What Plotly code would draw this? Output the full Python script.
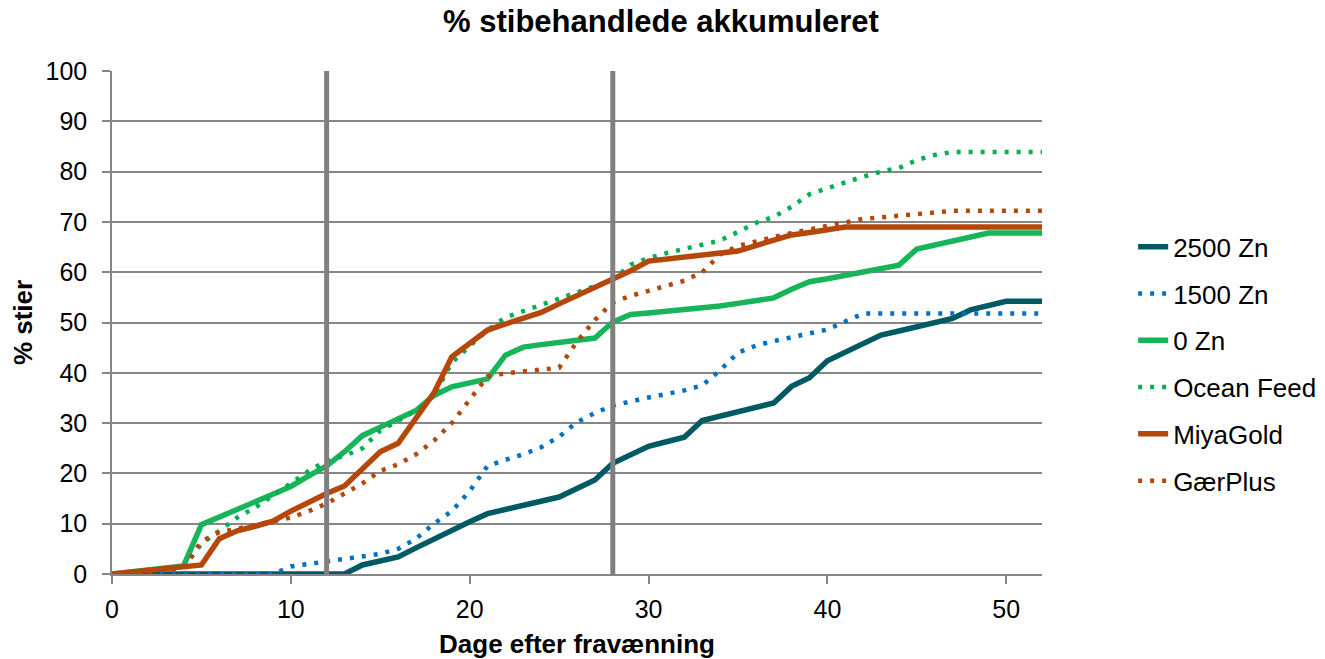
import plotly.graph_objects as go

days = list(range(0, 53))

zn2500 = [0]*14 + [1.8, 2.6, 3.4, 5.2, 7.0, 8.7, 10.4, 12.0, 12.8, 13.6, 14.5, 15.3, 17.0, 18.7,
              22.0, 23.7, 25.4, 26.3, 27.2, 30.5, 31.4, 32.3, 33.2, 34.0, 37.3, 39.0, 42.4, 44.1,
              45.8, 47.5, 48.3, 49.2, 50.0, 50.8, 52.5, 53.3, 54.2, 54.2, 54.2]

zn1500 = [0]*10 + [1.5, 2.0, 2.5, 3.0, 3.5, 4.0, 5.0, 7.0, 10.0, 12.5, 16.5, 21.5, 22.7, 23.8,
              25.2, 27.3, 30.2, 32.0, 33.5, 34.4, 35.1, 35.8, 36.5, 37.5, 40.5, 44.0, 45.4,
              46.3, 47.0, 47.8, 48.6, 50.2, 51.8, 51.8, 51.8, 51.8, 51.8, 51.8, 51.8, 51.8,
              51.8, 51.8, 51.8]

zn0 = [0, 0.4, 0.8, 1.2, 1.6, 9.8, 11.3, 12.8, 14.3, 15.8, 17.4, 19.5, 21.5, 24.3, 27.5, 29.2,
       30.8, 32.5, 35.5, 37.2, 38.0, 38.8, 43.5, 45.1, 45.6, 46.1, 46.5, 46.9, 50.1, 51.6, 51.9,
       52.2, 52.6, 52.9, 53.3, 53.8, 54.3, 54.9, 56.6, 58.1, 58.7, 59.4, 60.0, 60.7, 61.4, 64.6,
       65.4, 66.2, 67.0, 67.8, 67.8, 67.8, 67.8]

ocean = [0, 0.3, 0.6, 0.9, 1.2, 6.0, 8.5, 11.2, 13.2, 15.5, 18.0, 20.5, 22.5, 23.5, 25.0, 28.5,
         30.5, 32.5, 35.5, 42.0, 45.3, 48.5, 51.0, 52.3, 53.5, 54.8, 56.0, 57.2, 58.5, 61.5, 62.8,
         63.8, 64.7, 65.5, 66.3, 68.0, 69.8, 71.0, 73.0, 75.5, 76.7, 77.8, 79.0, 80.0, 80.7, 82.3,
         83.3, 83.9, 83.9, 83.9, 83.9, 83.9, 83.9]

miya = [0, 0.4, 0.8, 1.2, 1.5, 1.8, 7.0, 8.6, 9.5, 10.5, 12.5, 14.3, 16.0, 17.5, 21.0, 24.3,
        26.0, 31.0, 36.0, 43.2, 45.8, 48.5, 49.7, 50.8, 52.0, 53.7, 55.3, 57.0, 58.5, 60.3, 62.2,
        62.6, 63.0, 63.4, 63.8, 64.2, 65.3, 66.4, 67.4, 67.9, 68.5, 69.0, 69.0, 69.0, 69.0, 69.0,
        69.0, 69.0, 69.0, 69.0, 69.0, 69.0, 69.0]

gaer = [0, 0.3, 0.6, 0.9, 1.2, 6.5, 8.3, 9.0, 9.8, 10.5, 11.2, 12.5, 14.0, 16.0, 18.0, 20.5,
        21.8, 23.8, 26.5, 30.0, 34.6, 39.3, 39.9, 40.3, 40.6, 41.0, 46.2, 50.5, 54.0, 55.3, 56.3,
        57.3, 58.3, 60.0, 63.5, 65.2, 66.2, 67.0, 67.8, 68.5, 69.2, 69.8, 70.6, 70.9, 71.2, 71.5,
        71.8, 72.2, 72.2, 72.2, 72.2, 72.2, 72.2]

series_names = ["2500 Zn", "1500 Zn", "0 Zn", "Ocean Feed", "MiyaGold", "GærPlus"]
series_values = [zn2500, zn1500, zn0, ocean, miya, gaer]
series_colors = ["#005A64", "#0070C0", "#17B45A", "#00B050", "#B5470B", "#B5470B"]
series_dash = ["solid", "4px,8px", "solid", "4px,8px", "solid", "4px,8px"]
series_width = [5.5, 4.5, 5.5, 4.5, 5.5, 4.5]

x_ticks = [0, 10, 20, 30, 40, 50]
y_ticks = list(range(0, 101, 10))
marker_days = [12, 28]

FONT = "Arial, Liberation Sans, sans-serif"
W, H = 1325, 659

fig = go.Figure()
for i, (name, vals) in enumerate(zip(series_names, series_values)):
    fig.add_trace(go.Scatter(
        x=days, y=vals, mode="lines", name=name,
        legendgroup=f"g{i}",
        line=dict(color=series_colors[i], width=series_width[i], dash=series_dash[i]),
    ))

for d in marker_days:
    fig.add_shape(type="line", xref="x", yref="paper", x0=d, x1=d, y0=0, y1=1,
                  line=dict(color="#808080", width=5), layer="above")

fig.update_layout(
    width=W, height=H,
    margin=dict(l=112, r=283, t=71, b=85, autoexpand=False),
    paper_bgcolor="white", plot_bgcolor="white",
    font=dict(family=FONT, size=25, color="black"),
    title=dict(text="<b>% stibehandlede akkumuleret</b>", x=661/W, xanchor="center",
               xref="container", y=1 - 21/H, yanchor="middle",
               font=dict(size=31, family=FONT, color="black")),
    legend=dict(x=1.098, xanchor="left", y=0.418, yanchor="middle",
                font=dict(size=26, family=FONT), tracegroupgap=10,
                bgcolor="rgba(0,0,0,0)"),
    showlegend=True,
)
fig.update_xaxes(range=[0, 52], tickvals=x_ticks,
                 showgrid=False, zeroline=False, automargin=False,
                 showline=True, linecolor="#868686", linewidth=1.5,
                 ticks="outside", ticklen=8, tickcolor="#868686", tickwidth=1.5,
                 ticklabelstandoff=4,
                 tickfont=dict(size=25, family=FONT, color="black"),
                 title=dict(text="<b>Dage efter fravænning</b>", standoff=14,
                            font=dict(size=26, family=FONT, color="black")))
fig.update_yaxes(range=[0, 100], tickvals=y_ticks,
                 showgrid=True, gridcolor="#868686", gridwidth=1.5, zeroline=False,
                 automargin=False,
                 showline=True, linecolor="#868686", linewidth=1.5,
                 ticks="outside", ticklen=8, tickcolor="#868686", tickwidth=1.5,
                 ticklabelstandoff=10,
                 tickfont=dict(size=25, family=FONT, color="black"),
                 title=dict(text="<b>% stier</b>", standoff=5,
                            font=dict(size=26, family=FONT, color="black")))

fig.write_html("out.html", config={"displayModeBar": False},
               post_script="document.body.style.margin='0';document.body.style.overflow='hidden';")
